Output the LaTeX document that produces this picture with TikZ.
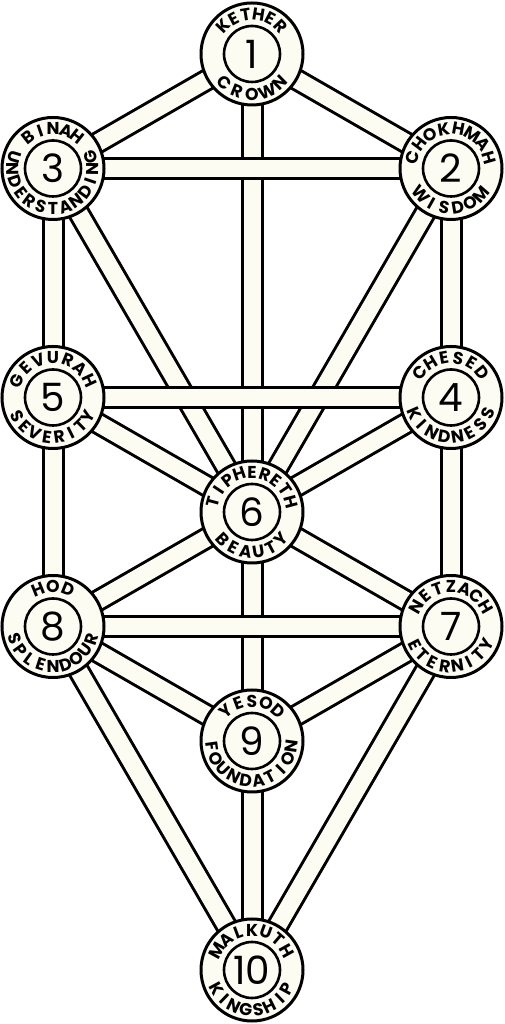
\documentclass[tikz,border=0pt]{standalone}
\usepackage{fontspec}
\newfontfamily\popfont{Poppins}
\definecolor{cream}{RGB}{253,252,242}
\newcommand\lblfont{\popfont\bfseries\fontsize{17.2}{17.2}\selectfont}
\newcommand\numfont{\popfont\fontsize{39}{39}\selectfont}
\newsavebox\arcchbox
% #1 centre node, #2 +1 top / -1 bottom, #3 radius, #4 span (deg, first to last letter centre), #5 letters
\newcommand\arclabel[5]{%
  \gdef\arcsum{0}\gdef\arcfirst{0}\gdef\arclast{0}\gdef\arcn{0}%
  \foreach \c [count=\i] in {#5}{%
    \sbox\arcchbox{\lblfont\c}%
    \pgfmathsetmacro\arcw{\the\wd\arcchbox}%
    \pgfmathsetmacro\arctmp{\arcsum+\arcw}\xdef\arcsum{\arctmp}%
    \ifnum\i=1 \xdef\arcfirst{\arcw}\fi
    \xdef\arclast{\arcw}\xdef\arcn{\i}%
  }%
  \pgfmathsetmacro\arctarget{#4*pi/180*#3}%
  \pgfmathsetmacro\arctrack{(\arctarget-(\arcsum-\arcfirst/2-\arclast/2))/(\arcn-1)}%
  \pgfmathsetmacro\arctmp{-\arctarget/2-\arcfirst/2}\xdef\arcpos{\arctmp}%
  \foreach \c in {#5}{%
    \sbox\arcchbox{\lblfont\c}%
    \pgfmathsetmacro\arcw{\the\wd\arcchbox}%
    \pgfmathsetmacro\arcm{(\arcpos+\arcw/2)/#3*180/pi}%
    \pgfmathsetmacro\arca{(#2)*(90-\arcm)}%
    \pgfmathsetmacro\arcr{-(#2)*\arcm}%
    \path (#1) ++(\arca:#3) node[lbl,rotate=\arcr]{\c};%
    \pgfmathsetmacro\arctmp{\arcpos+\arcw+\arctrack}\xdef\arcpos{\arctmp}%
  }%
}
\begin{document}
\begin{tikzpicture}[x=1pt,y=1pt,
  band/.style={line width=3pt,double=cream,double distance=17pt},
  outerring/.style={circle,draw,line width=3pt,fill=cream,minimum size=102pt,inner sep=0pt},
  innerring/.style={circle,draw,line width=2.6pt,minimum size=56pt,inner sep=0pt,font=\numfont},
  lbl/.style={inner sep=0pt,anchor=center,font=\lblfont}]
\useasboundingbox (0,0) rectangle (504,1024);
\coordinate (c1) at (252,970);
\coordinate (c2) at (451,855.5);
\coordinate (c3) at (53,855.5);
\coordinate (c4) at (451,626.5);
\coordinate (c5) at (53,626.5);
\coordinate (c6) at (252,512);
\coordinate (c7) at (451,397.5);
\coordinate (c8) at (53,397.5);
\coordinate (c9) at (252,283);
\coordinate (c10) at (252,54);
% vertical and diagonal paths
\foreach \a/\b in {1/2,1/3,1/6,2/4,2/6,3/5,3/6,4/6,4/7,5/6,5/8,6/7,6/8,6/9,7/9,7/10,8/9,8/10,9/10}
  \draw[band] (c\a) -- (c\b);
% horizontal paths on top
\foreach \a/\b in {2/3,4/5,7/8}
  \draw[band] (c\a) -- (c\b);
% sephiroth
\foreach \k/\n in {1/1,2/2,3/3,4/4,5/5,6/6,7/7,8/8,9/9,10/10}{
  \node[outerring] (s\k) at (c\k) {};
  \node[innerring] (n\k) at (c\k) {\n};
}
\arclabel{s1}{1}{40}{93}{K,E,T,H,E,R}
\arclabel{s1}{-1}{40}{89}{C,R,O,W,N}
\arclabel{s2}{1}{40}{148}{C,H,O,K,H,M,A,H}
\arclabel{s2}{-1}{40}{98}{W,I,S,D,O,M}
\arclabel{s3}{1}{40}{76}{B,I,N,A,H}
\arclabel{s3}{-1}{40}{214}{U,N,D,E,R,S,T,A,N,D,I,N,G}
\arclabel{s4}{1}{40}{103}{C,H,E,S,E,D}
\arclabel{s4}{-1}{40}{133}{K,I,N,D,N,E,S,S}
\arclabel{s5}{1}{40}{130}{G,E,V,U,R,A,H}
\arclabel{s5}{-1}{40}{124}{S,E,V,E,R,I,T,Y}
\arclabel{s6}{1}{40}{150}{T,I,P,H,E,R,E,T,H}
\arclabel{s6}{-1}{40}{93}{B,E,A,U,T,Y}
\arclabel{s7}{1}{40}{120}{N,E,T,Z,A,C,H}
\arclabel{s7}{-1}{40}{126}{E,T,E,R,N,I,T,Y}
\arclabel{s8}{1}{40}{44}{H,O,D}
\arclabel{s8}{-1}{40}{144}{S,P,L,E,N,D,O,U,R}
\arclabel{s9}{1}{40}{82}{Y,E,S,O,D}
\arclabel{s9}{-1}{40}{164}{F,O,U,N,D,A,T,I,O,N}
\arclabel{s10}{1}{40}{122}{M,A,L,K,U,T,H}
\arclabel{s10}{-1}{40}{123}{K,I,N,G,S,H,I,P}
\end{tikzpicture}
\end{document}
